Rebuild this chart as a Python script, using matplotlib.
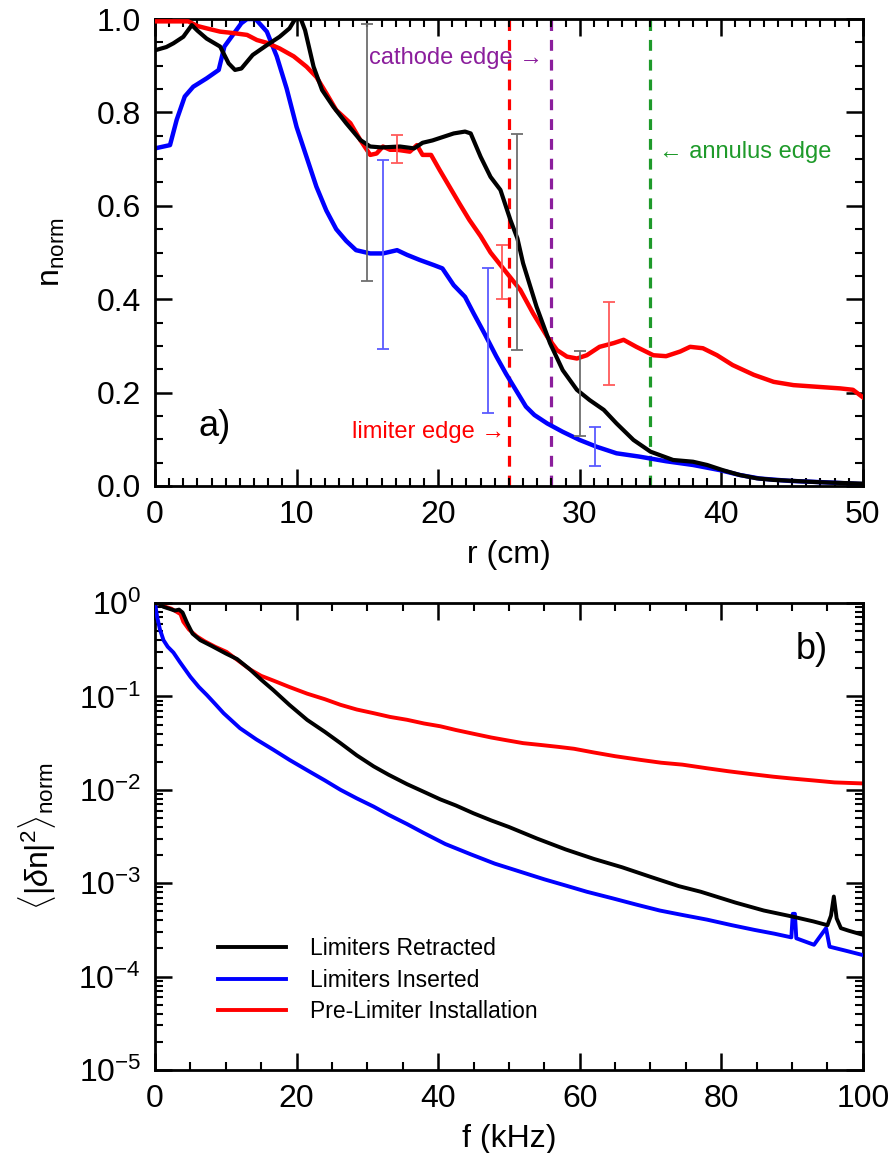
import numpy as np
import matplotlib
matplotlib.use("Agg")
import matplotlib.pyplot as plt
from matplotlib.ticker import MultipleLocator, LogLocator, NullFormatter, FormatStrFormatter

plt.rcParams['font.family'] = ['Liberation Sans', 'DejaVu Sans']
plt.rcParams['mathtext.fontset'] = 'custom'
plt.rcParams['mathtext.rm'] = 'Liberation Sans'
plt.rcParams['mathtext.it'] = 'Liberation Sans:italic'
plt.rcParams['axes.unicode_minus'] = False

# ---------------- (a) radial density profiles ----------------
r_retracted = [0.0, 0.8, 1.3, 2.0, 2.6, 3.0, 3.65, 4.6, 5.2, 5.65, 6.1, 6.9, 7.9, 8.8, 9.5,
               9.9, 10.3, 10.6, 11.2, 11.8, 12.6, 13.5, 14.5, 15.2, 16.0, 17.3, 18.3, 18.9,
               19.6, 20.4, 21.1, 21.9, 22.3, 23.0, 23.7, 24.4, 25.1, 25.6, 26.0, 26.95, 27.9,
               28.8, 29.8, 30.7, 31.7, 32.6, 33.8, 35.0, 36.6, 38.0, 39.0, 40.1, 41.3, 42.5,
               43.7, 45.0, 47.0, 50.0]
n_retracted = [0.933, 0.94, 0.948, 0.962, 0.987, 0.975, 0.958, 0.941, 0.905, 0.891, 0.894,
               0.923, 0.944, 0.962, 0.98, 1.0, 1.0, 0.976, 0.898, 0.848, 0.812, 0.777, 0.741,
               0.727, 0.725, 0.727, 0.723, 0.735, 0.740, 0.748, 0.755, 0.759, 0.755, 0.705,
               0.662, 0.634, 0.57, 0.53, 0.477, 0.384, 0.306, 0.248, 0.206, 0.184, 0.163,
               0.134, 0.0985, 0.0735, 0.0557, 0.052, 0.045, 0.034, 0.0236, 0.0164, 0.013,
               0.011, 0.008, 0.005]

r_inserted = [0.0, 1.06, 1.53, 2.1, 2.7, 3.65, 4.5, 4.9, 5.5, 6.1, 6.5, 7.1, 7.9, 8.6, 9.3,
              10.0, 10.7, 11.4, 12.1, 12.8, 13.5, 14.2, 15.2, 16.1, 17.1, 17.8, 18.7, 19.7,
              20.3, 21.1, 21.9, 22.5, 23.3, 24.1, 24.8, 25.5, 26.2, 26.8, 27.7, 28.8, 30.0,
              31.2, 32.6, 34.2, 36.1, 38.0, 39.9, 41.3, 42.7, 44.8, 47.2, 50.0]
n_inserted = [0.723, 0.73, 0.784, 0.834, 0.855, 0.873, 0.891, 0.941, 0.966, 0.991, 1.0, 1.0,
              0.973, 0.92, 0.851, 0.769, 0.705, 0.641, 0.59, 0.55, 0.525, 0.505, 0.498, 0.498,
              0.505, 0.495, 0.484, 0.473, 0.466, 0.43, 0.405, 0.37, 0.325, 0.278, 0.24, 0.205,
              0.17, 0.152, 0.134, 0.116, 0.0985, 0.084, 0.07, 0.063, 0.053, 0.045, 0.034,
              0.0236, 0.016, 0.011, 0.008, 0.004]

r_prelimiter = [0.0, 2.35, 3.0, 3.65, 4.6, 5.5, 6.5, 7.2, 7.9, 8.8, 9.8, 10.7, 11.4, 12.1,
                12.8, 13.8, 14.5, 15.2, 15.65, 16.1, 16.6, 17.1, 18.0, 18.5, 18.9, 19.5, 20.1,
                20.8, 21.5, 22.2, 23.0, 23.7, 24.8, 25.8, 26.7, 27.7, 28.4, 29.1, 29.8, 30.5,
                31.4, 32.4, 33.1, 34.0, 35.2, 36.1, 37.1, 37.8, 38.7, 39.7, 40.8, 42.3, 43.7,
                45.1, 46.5, 48.4, 49.3, 50.0]
n_prelimiter = [0.995, 0.995, 0.985, 0.98, 0.973, 0.97, 0.966, 0.955, 0.949, 0.937, 0.92,
                0.898, 0.876, 0.841, 0.805, 0.777, 0.741, 0.709, 0.712, 0.727, 0.72, 0.72,
                0.716, 0.73, 0.709, 0.709, 0.677, 0.641, 0.605, 0.57, 0.535, 0.50, 0.458, 0.42,
                0.37, 0.32, 0.291, 0.277, 0.273, 0.28, 0.298, 0.306, 0.313, 0.298, 0.28, 0.278,
                0.288, 0.298, 0.295, 0.28, 0.259, 0.238, 0.223, 0.216, 0.213, 0.209, 0.206,
                0.19]

# error bars: position, centre, lower and upper limits
eb_retracted_r = [15.0, 25.6, 30.0]
eb_retracted_mid = [0.727, 0.52, 0.198]
eb_retracted_lo = [0.44, 0.291, 0.107]
eb_retracted_hi = [0.99, 0.754, 0.29]

eb_prelimiter_r = [17.1, 24.5, 32.1]
eb_prelimiter_mid = [0.72, 0.458, 0.305]
eb_prelimiter_lo = [0.691, 0.40, 0.216]
eb_prelimiter_hi = [0.752, 0.516, 0.393]

eb_inserted_r = [16.1, 23.5, 31.1]
eb_inserted_mid = [0.496, 0.31, 0.085]
eb_inserted_lo = [0.293, 0.157, 0.043]
eb_inserted_hi = [0.698, 0.466, 0.127]

limiter_edge = 25.0
cathode_edge = 28.0
annulus_edge = 35.0

# ---------------- (b) fluctuation power spectra ----------------
f_retracted = [0.0, 0.6, 1.2, 2.0, 2.8, 3.4, 3.9, 4.5, 5.3, 6.4, 8.0, 10.0, 11.6, 13.4, 15.0,
               16.7, 19.0, 21.5, 24.0, 26.2, 28.5, 30.9, 33.0, 35.6, 38.0, 40.3, 42.5, 45.0,
               47.5, 50.0, 54.0, 58.0, 62.0, 66.0, 70.0, 74.0, 77.1, 82.0, 86.0, 90.0, 93.0,
               95.0, 95.5, 95.9, 96.3, 96.9, 98.0, 100.0]
p_retracted = [1.0, 0.98, 0.91, 0.87, 0.83, 0.85, 0.79, 0.62, 0.47, 0.40, 0.347, 0.288, 0.251,
               0.195, 0.151, 0.117, 0.081, 0.056, 0.0417, 0.0316, 0.0234, 0.0178, 0.0145,
               0.0115, 0.0095, 0.0079, 0.0068, 0.0056, 0.0047, 0.0040, 0.0030, 0.0023,
               0.00182, 0.00148, 0.00117, 0.00093, 0.00081, 0.00062, 0.00051, 0.00044,
               0.00039, 0.000355, 0.00045, 0.00072, 0.00042, 0.00033, 0.00031, 0.00028]

f_inserted = [0.0, 0.3, 0.7, 1.2, 1.8, 2.6, 3.5, 5.0, 6.2, 7.3, 8.5, 9.7, 12.0, 14.3, 16.7,
              19.0, 21.5, 24.0, 26.2, 28.5, 30.9, 33.0, 35.6, 37.9, 41.0, 44.6, 48.0, 51.3,
              55.0, 57.9, 61.0, 64.6, 68.0, 71.3, 74.5, 78.0, 81.5, 84.7, 87.5, 89.9, 90.1,
              90.4, 90.6, 93.1, 94.8, 95.3, 97.5, 100.0]
p_inserted = [1.0, 0.71, 0.52, 0.40, 0.34, 0.295, 0.234, 0.162, 0.126, 0.104, 0.083, 0.066,
              0.0457, 0.0347, 0.0269, 0.0209, 0.0162, 0.0126, 0.0100, 0.0081, 0.0066, 0.0054,
              0.0043, 0.00347, 0.00263, 0.00204, 0.00162, 0.00135, 0.0011, 0.00095, 0.00081,
              0.00069, 0.00059, 0.00051, 0.000457, 0.000407, 0.000355, 0.000316, 0.000288,
              0.000263, 0.00047, 0.00047, 0.000257, 0.000219, 0.00033, 0.000209, 0.00019,
              0.00017]

f_prelimiter = [0.0, 0.8, 1.5, 2.3, 3.0, 3.6, 4.0, 4.8, 5.9, 7.0, 8.5, 10.1, 12.0, 13.4, 15.0,
                16.7, 19.0, 21.5, 24.0, 26.2, 28.5, 30.9, 33.2, 35.6, 38.0, 40.3, 42.5, 45.0,
                47.5, 49.7, 52.0, 54.5, 57.0, 59.2, 62.0, 65.0, 68.6, 71.5, 74.5, 78.0, 81.0,
                84.0, 87.4, 90.0, 93.0, 96.0, 100.0]
p_prelimiter = [1.0, 0.98, 0.91, 0.87, 0.81, 0.76, 0.63, 0.52, 0.44, 0.39, 0.34, 0.30, 0.234,
                0.195, 0.166, 0.148, 0.126, 0.107, 0.0933, 0.0813, 0.0724, 0.0661, 0.0603,
                0.0562, 0.0513, 0.0479, 0.0437, 0.0398, 0.0363, 0.0339, 0.0316, 0.0302,
                0.0288, 0.0275, 0.0251, 0.0229, 0.0209, 0.0195, 0.0186, 0.0170, 0.0158,
                0.0148, 0.0138, 0.0132, 0.0126, 0.0120, 0.0117]

BLUE = '#0000FF'
RED = '#FF0000'
PURPLE = '#8B1E9C'
GREEN = '#1E9A2A'

fig = plt.figure(figsize=(8.96, 11.53), dpi=100)
ax1 = fig.add_axes([0.173, 0.5785, 0.790, 0.405])
ax2 = fig.add_axes([0.173, 0.072, 0.790, 0.405])

LABEL_SIZE = 23
NOTE_SIZE = 17


def style_axes(ax):
    for s in ax.spines.values():
        s.set_linewidth(2.0)
    ax.tick_params(which='both', direction='in', top=True, right=True,
                   labelsize=LABEL_SIZE, pad=10)
    ax.tick_params(which='major', length=12, width=1.8)
    ax.tick_params(which='minor', length=6, width=1.5)


# panel (a)
for x0, col in [(limiter_edge, RED), (cathode_edge, PURPLE), (annulus_edge, GREEN)]:
    ax1.axvline(x0, color=col, lw=2.3, dashes=(3.4, 2.8), zorder=1)

ax1.plot(r_prelimiter, n_prelimiter, color=RED, lw=3.2, zorder=3)
ax1.plot(r_retracted, n_retracted, color='black', lw=3.0, zorder=4)
ax1.plot(r_inserted, n_inserted, color=BLUE, lw=3.2, zorder=2)

for xs, mid, lo, hi, col in [
        (eb_retracted_r, eb_retracted_mid, eb_retracted_lo, eb_retracted_hi, '#6e6e6e'),
        (eb_prelimiter_r, eb_prelimiter_mid, eb_prelimiter_lo, eb_prelimiter_hi, '#ff5a5a'),
        (eb_inserted_r, eb_inserted_mid, eb_inserted_lo, eb_inserted_hi, '#5a5aff')]:
    mid = np.array(mid)
    yerr = [mid - np.array(lo), np.array(hi) - mid]
    ax1.errorbar(xs, mid, yerr=yerr, fmt='none', ecolor=col, elinewidth=1.3,
                 capsize=4.5, capthick=1.3, zorder=5)

ax1.set_xlim(0, 50)
ax1.set_ylim(0, 1.0)
ax1.xaxis.set_major_locator(MultipleLocator(10))
ax1.xaxis.set_minor_locator(MultipleLocator(1))
ax1.yaxis.set_major_locator(MultipleLocator(0.2))
ax1.yaxis.set_minor_locator(MultipleLocator(0.05))
ax1.yaxis.set_major_formatter(FormatStrFormatter('%.1f'))
style_axes(ax1)
ax1.set_xlabel('r (cm)', fontsize=LABEL_SIZE, labelpad=7)
ax1.set_ylabel(r'n$_\mathregular{norm}$', fontsize=LABEL_SIZE)
ax1.yaxis.set_label_coords(-0.125, 0.5)

ax1.text(27.4, 0.916, 'cathode edge \u2192', color=PURPLE, fontsize=NOTE_SIZE,
         ha='right', va='center')
ax1.text(35.6, 0.716, '\u2190 annulus edge', color=GREEN, fontsize=NOTE_SIZE,
         ha='left', va='center')
ax1.text(24.7, 0.116, 'limiter edge \u2192', color=RED, fontsize=NOTE_SIZE,
         ha='right', va='center')
ax1.text(0.061, 0.127, 'a)', transform=ax1.transAxes, fontsize=26, ha='left', va='center')

# panel (b)
ax2.plot(f_prelimiter, p_prelimiter, color=RED, lw=2.8, label='Pre-Limiter Installation',
         zorder=2)
ax2.plot(f_inserted, p_inserted, color=BLUE, lw=2.8, label='Limiters Inserted', zorder=3)
ax2.plot(f_retracted, p_retracted, color='black', lw=2.8, label='Limiters Retracted',
         zorder=4)
ax2.set_yscale('log')
ax2.set_xlim(0, 100)
ax2.set_ylim(1e-5, 1.0)
ax2.xaxis.set_major_locator(MultipleLocator(20))
ax2.xaxis.set_minor_locator(MultipleLocator(5))
ax2.yaxis.set_major_locator(LogLocator(base=10, numticks=10))
ax2.yaxis.set_minor_locator(LogLocator(base=10, subs=np.arange(2, 10), numticks=20))
ax2.yaxis.set_minor_formatter(NullFormatter())
style_axes(ax2)
ax2.set_xlabel('f (kHz)', fontsize=LABEL_SIZE, labelpad=7)
ax2.set_ylabel(r'$\langle|\delta \mathrm{n}|^2\rangle_\mathrm{norm}$', fontsize=LABEL_SIZE)
ax2.yaxis.set_label_coords(-0.137, 0.5)
ax2.text(0.905, 0.90, 'b)', transform=ax2.transAxes, fontsize=26, ha='left', va='center')

handles, labels = ax2.get_legend_handles_labels()
order = [2, 1, 0]
ax2.legend([handles[i] for i in order], [labels[i] for i in order],
           loc='upper left', bbox_to_anchor=(0.089, 0.285), frameon=False,
           fontsize=16.5, handlelength=2.95, handletextpad=1.05, borderpad=0,
           borderaxespad=0, labelspacing=0.38)

fig.savefig('out.png', dpi=100)
